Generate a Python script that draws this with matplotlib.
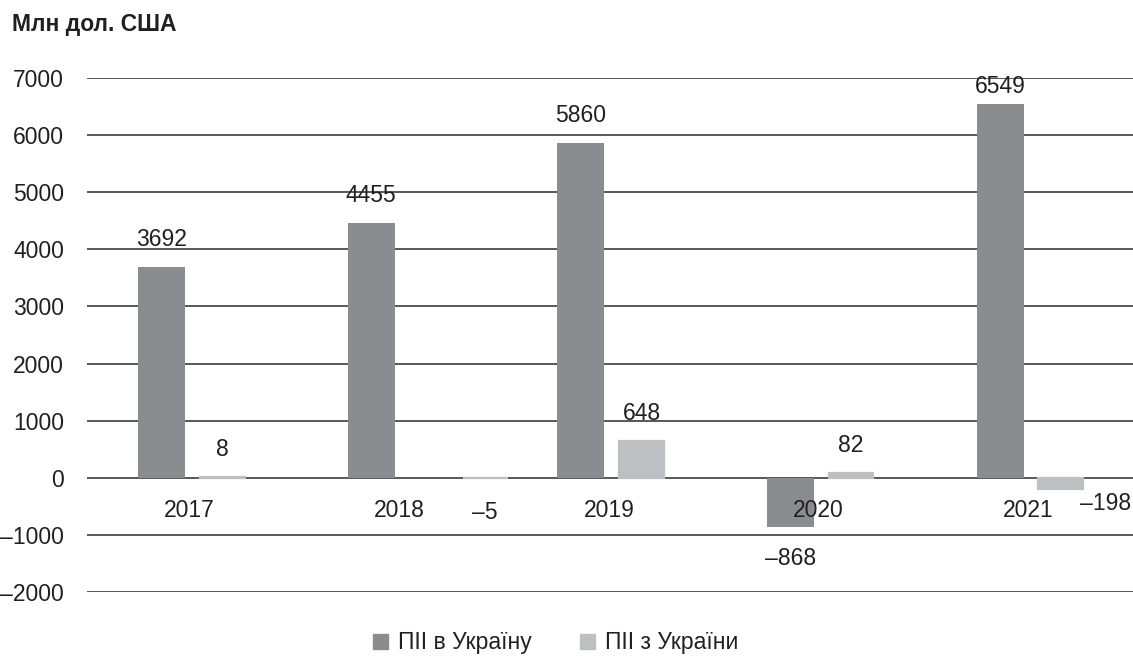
import numpy as np
import matplotlib.pyplot as plt
from matplotlib.patches import Patch

years = ['2017', '2018', '2019', '2020', '2021']
fdi_in = [3692, 4455, 5860, -868, 6549]
fdi_out = [8, -5, 648, 82, -198]
series_names = ['ПІІ в Україну', 'ПІІ з України']
y_ticks = [7000, 6000, 5000, 4000, 3000, 2000, 1000, 0, -1000, -2000]
unit_label = 'Млн дол. США'

plt.rcParams['font.family'] = ['Liberation Sans', 'DejaVu Sans']
txt = '#231f20'
dark = '#8b8c8f'
light = '#bebfc2'
grid_c = '#4a4a4a'
fs = 16.5


def fmt(v):
    return ('–' + str(-v)) if v < 0 else str(v)


fig = plt.figure(figsize=(11.33, 6.57), dpi=100)
ax = fig.add_axes([87 / 1133, 65 / 657, 1046 / 1133, 514 / 657])

x = np.arange(len(years))
w = 0.224
dark_x = x - 0.134
light_x = x + 0.155
light_x[1] = 1 + 0.41  # the 2018 light bar sits further right in the original

ax.bar(dark_x, fdi_in, width=w, color=dark, zorder=3)
# thin edge keeps the tiny values (8, -5) visible like in the original
ax.bar(light_x, fdi_out, width=w - 0.01, color=light, edgecolor=light,
       linewidth=1.6, zorder=3)

ax.set_xlim(-0.49, 4.50)
ax.set_ylim(-2000, 7000)
ax.set_yticks(y_ticks)
ax.set_yticklabels([fmt(t) for t in y_ticks])
ax.set_xticks([])
ax.tick_params(axis='y', length=0, pad=16.5, labelsize=fs, labelcolor=txt)
ax.yaxis.grid(True, color=grid_c, linewidth=1.3)
ax.set_axisbelow(True)
for s in ax.spines.values():
    s.set_visible(False)

# value labels
for xi, v in zip(dark_x, fdi_in):
    if v >= 0:
        off = 4 if v > 6300 else 11.5
        ax.annotate(fmt(v), (xi, v), xytext=(0, off), textcoords='offset points',
                    ha='center', va='bottom', fontsize=fs, color=txt)
    else:
        ax.annotate(fmt(v), (xi, v), xytext=(0, -14), textcoords='offset points',
                    ha='center', va='top', fontsize=fs, color=txt)

for xi, v in zip(light_x, fdi_out):
    if v >= 0:
        ax.annotate(fmt(v), (xi, v), xytext=(0, 11.5), textcoords='offset points',
                    ha='center', va='bottom', fontsize=fs, color=txt)
    elif v > -50:
        ax.annotate(fmt(v), (xi, v), xytext=(0, -16.5), textcoords='offset points',
                    ha='center', va='top', fontsize=fs, color=txt)
    else:
        # squeezed against the right edge, next to the bar
        ax.annotate(fmt(v), (1.0, v), xycoords=('axes fraction', 'data'),
                    xytext=(-1, -2), textcoords='offset points',
                    ha='right', va='top', fontsize=fs, color=txt)

# year labels under the zero line
for xi, yr in zip(x, years):
    ax.annotate(yr, (xi, 0), xytext=(0, -23.8), textcoords='offset points',
                ha='center', va='center', fontsize=fs, color=txt, zorder=4)

fig.text(12 / 1133, 1 - 24 / 657, unit_label, fontsize=fs, fontweight='bold',
         color=txt, ha='left', va='center')

handles = [Patch(color=dark), Patch(color=light)]
fig.legend(handles, series_names, loc='center', bbox_to_anchor=(556 / 1133, 1 - 643 / 657),
           ncol=2, frameon=False, fontsize=fs, handlelength=0.65, handleheight=0.65,
           handletextpad=0.45, columnspacing=2.1, labelcolor=txt)

fig.savefig('out.png', dpi=100)
